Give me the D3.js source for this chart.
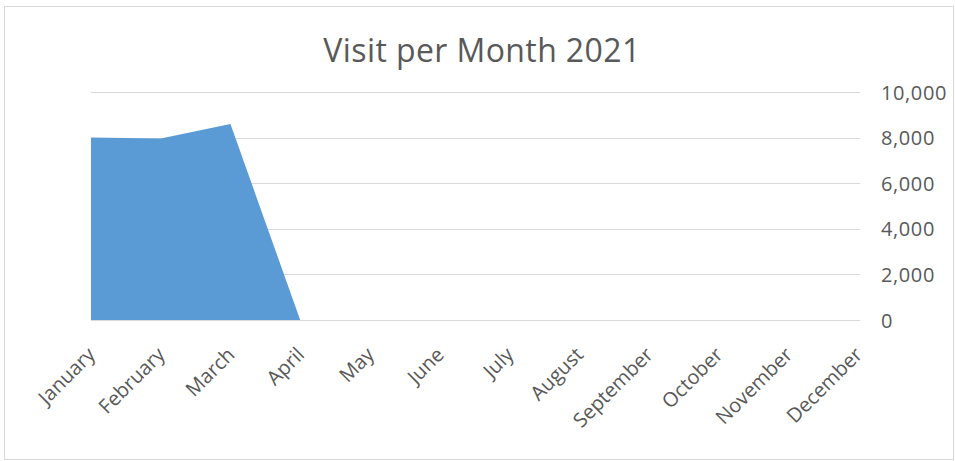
<!DOCTYPE html>
<html>
<head>
<meta charset="utf-8">
<script src="https://cdn.jsdelivr.net/npm/d3@7"></script>
<style>
  html, body { margin: 0; padding: 0; background: #ffffff; }
  svg { display: block; }
  text { font-family: "Open Sans", "Noto Sans", sans-serif; fill: #595959; }
</style>
</head>
<body>
<svg id="chart" width="955" height="461"></svg>
<script>
// Monthly visits for 2021 (only January–April reported so far)
const months = ["January", "February", "March", "April", "May", "June",
                "July", "August", "September", "October", "November", "December"];
const visits = [8000, 7960, 8600, 0, null, null, null, null, null, null, null, null];
const yTicks = [0, 2000, 4000, 6000, 8000, 10000];
const title = "Visit per Month 2021";

const svg = d3.select("#chart");
const W = 955, H = 461;

// chart frame
svg.append("rect")
  .attr("x", 4.5).attr("y", 6.5)
  .attr("width", W - 6).attr("height", H - 8)
  .attr("fill", "#ffffff")
  .attr("stroke", "#d9d9d9").attr("stroke-width", 1);

const plot = { left: 91, right: 858, top: 92, bottom: 320 };

const x = d3.scalePoint().domain(months).range([plot.left, plot.right]);
const y = d3.scaleLinear().domain([0, 10000]).range([plot.bottom, plot.top]);

// horizontal gridlines
svg.append("g")
  .selectAll("line")
  .data(yTicks)
  .join("line")
  .attr("x1", plot.left).attr("x2", plot.right + 2)
  .attr("y1", d => Math.round(y(d)) + 0.5)
  .attr("y2", d => Math.round(y(d)) + 0.5)
  .attr("stroke", "#d9d9d9").attr("stroke-width", 1);

// area series
const data = months.map((m, i) => ({ month: m, value: visits[i] }));
const area = d3.area()
  .defined(d => d.value !== null)
  .x(d => x(d.month))
  .y0(y(0))
  .y1(d => y(d.value));

svg.append("path")
  .datum(data)
  .attr("d", area)
  .attr("fill", "#5b9bd5");

// right value axis
const yAxis = d3.axisRight(y)
  .tickValues(yTicks)
  .tickSize(0)
  .tickPadding(0)
  .tickFormat(d3.format(","));

const gy = svg.append("g")
  .attr("transform", `translate(${plot.right + 23},0)`)
  .call(yAxis);
gy.select(".domain").remove();
gy.selectAll("text")
  .attr("fill", "#595959")
  .style("font-size", "20px")
  .style("letter-spacing", "0.6px")
  .attr("dy", "0.35em");

// category axis with rotated month labels
const xAxis = d3.axisBottom(x).tickSize(0).tickPadding(0);
const gx = svg.append("g")
  .attr("transform", `translate(0,${plot.bottom})`)
  .call(xAxis);
gx.select(".domain").remove();
gx.selectAll("text")
  .attr("fill", "#595959")
  .style("font-size", "20px")
  .attr("text-anchor", "end")
  .attr("dy", "0.35em")
  .attr("transform", "translate(0,31) rotate(-45)");

// title
svg.append("text")
  .attr("x", 482).attr("y", 62)
  .attr("text-anchor", "middle")
  .style("font-size", "32px")
  .style("letter-spacing", "0.4px")
  .text(title);
</script>
</body>
</html>
